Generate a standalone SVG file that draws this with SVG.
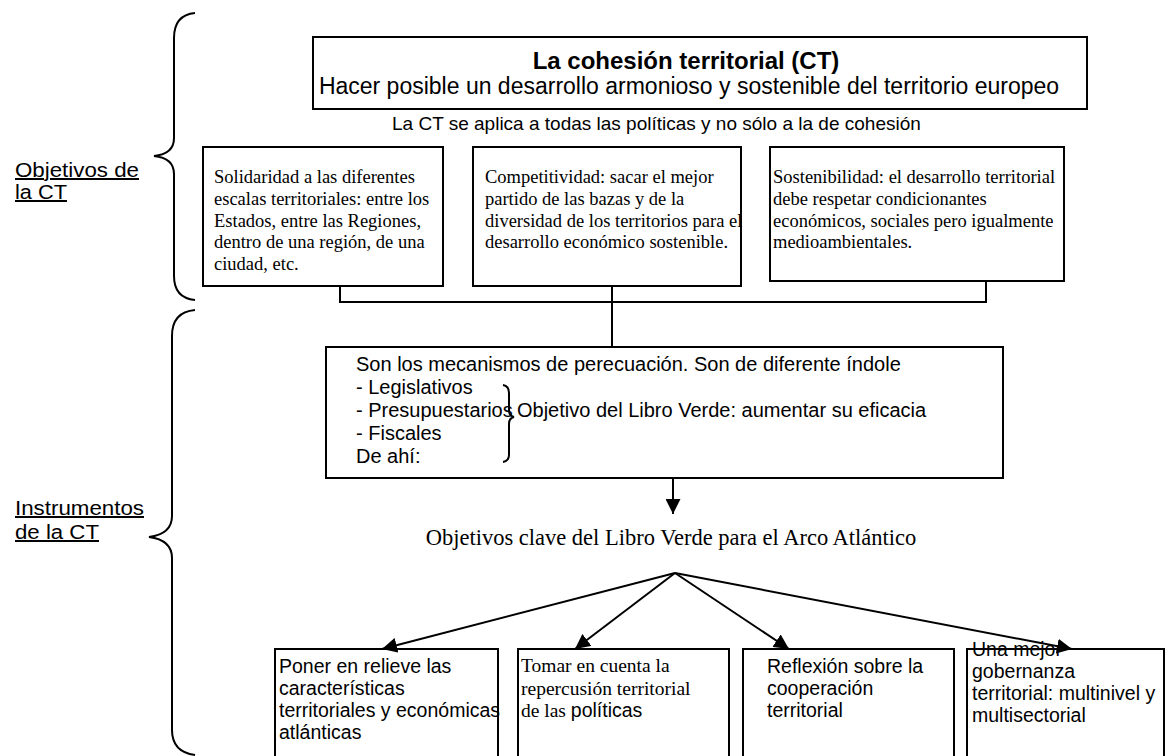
<svg xmlns="http://www.w3.org/2000/svg" width="1165" height="756" viewBox="0 0 1165 756">
<defs>
<marker id="ah" viewBox="0 0 10 10" refX="10" refY="5" markerWidth="15" markerHeight="15" markerUnits="userSpaceOnUse" orient="auto">
<path d="M0,0 L10,5 L0,10 z" fill="#000"/>
</marker>
</defs>
<style>
.box{fill:#fff;stroke:#000;stroke-width:2}
.ln{fill:none;stroke:#000;stroke-width:2}
.br{fill:none;stroke:#000;stroke-width:2}
.sans{font-family:"Liberation Sans",Arial,sans-serif;fill:#000}
.serif{font-family:"Liberation Serif","Times New Roman",serif;fill:#000}
.lbl{font-size:20px;text-decoration:underline}
.tb{font-size:18.5px}
.sb{font-size:19.5px}
</style>
<rect width="1165" height="756" fill="#fff"/>

<g id="brace-objetivos">
<path class="br" d="M195,13 Q174,15 174,38 L174,138 Q174,154 154,156 Q174,158 174,174 L174,276 Q174,298 195,300"/>
<text class="sans lbl" x="15" y="177" textLength="124" lengthAdjust="spacingAndGlyphs">Objetivos de</text>
<text class="sans lbl" x="15" y="199" textLength="52" lengthAdjust="spacingAndGlyphs">la CT</text>
</g>

<g id="brace-instrumentos">
<path class="br" d="M195,310 Q172,312 172,336 L172,516 Q172,534 149,537 Q172,540 172,558 L172,730 Q172,752 195,755"/>
<text class="sans lbl" x="15" y="515" textLength="129" lengthAdjust="spacingAndGlyphs">Instrumentos</text>
<text class="sans lbl" x="15" y="539" textLength="84" lengthAdjust="spacingAndGlyphs">de la CT</text>
</g>

<g id="n-ct">
<rect class="box" x="313" y="37" width="774" height="72"/>
<text class="sans" font-size="24" font-weight="bold" x="686" y="69" text-anchor="middle">La cohesión territorial (CT)</text>
<text class="sans" font-size="23" x="689" y="94" text-anchor="middle">Hacer posible un desarrollo armonioso y sostenible del territorio europeo</text>
</g>

<g id="n-aplica">
<text class="sans" font-size="19" x="392" y="130">La CT se aplica a todas las políticas y no sólo a la de cohesión</text>
</g>

<g id="n-solidaridad">
<rect class="box" x="203" y="147" width="240" height="139"/>
<text class="serif tb"><tspan x="214" y="183">Solidaridad a las diferentes</tspan><tspan x="214" y="205">escalas territoriales: entre los</tspan><tspan x="214" y="227">Estados, entre las Regiones,</tspan><tspan x="214" y="248">dentro de una región, de una</tspan><tspan x="214" y="270">ciudad, etc.</tspan></text>
</g>

<g id="n-competitividad">
<rect class="box" x="473" y="147" width="268" height="139"/>
<text class="serif tb"><tspan x="485" y="183">Competitividad: sacar el mejor</tspan><tspan x="485" y="205">partido de las bazas y de la</tspan><tspan x="485" y="227">diversidad de los territorios para el</tspan><tspan x="485" y="248">desarrollo económico sostenible.</tspan></text>
</g>

<g id="n-sostenibilidad">
<rect class="box" x="770" y="147" width="294" height="134"/>
<text class="serif tb"><tspan x="773" y="183">Sostenibilidad: el desarrollo territorial</tspan><tspan x="773" y="205">debe respetar condicionantes</tspan><tspan x="773" y="227">económicos, sociales pero igualmente</tspan><tspan x="773" y="248">medioambientales.</tspan></text>
</g>

<g id="n-mecanismos">
<rect class="box" x="326" y="347" width="677" height="131"/>
<text class="sans" font-size="20"><tspan x="356" y="371">Son los mecanismos de perecuación. Son de diferente índole</tspan><tspan x="356" y="394">- Legislativos</tspan><tspan x="356" y="417">- Presupuestarios</tspan><tspan x="356" y="440">- Fiscales</tspan><tspan x="356" y="463">De ahí:</tspan></text>
<path class="br" stroke-width="1.5" d="M503,385 Q509,386 509,393 L509,410 Q509,416 514,417 Q509,418 509,424 L509,455 Q509,461 503,462"/>
<text class="sans" font-size="20" x="517" y="417">Objetivo del Libro Verde: aumentar su eficacia</text>
</g>

<g id="n-clave">
<text class="serif" font-size="22.5" x="671" y="545" text-anchor="middle">Objetivos clave del Libro Verde para el Arco Atlántico</text>
</g>

<g id="n-relieve">
<rect class="box" x="275" y="649" width="223" height="120"/>
<text class="sans sb"><tspan x="279" y="673">Poner en relieve las</tspan><tspan x="279" y="695">características</tspan><tspan x="279" y="717">territoriales y económicas</tspan><tspan x="279" y="739">atlánticas</tspan></text>
</g>

<g id="n-tomar">
<rect class="box" x="518" y="649" width="211" height="120"/>
<text font-size="19.5"><tspan class="serif" x="521" y="672">Tomar en cuenta la</tspan><tspan class="serif" x="521" y="695">repercusión territorial</tspan><tspan class="serif" x="521" y="717">de las </tspan><tspan class="sans">políticas</tspan></text>
</g>

<g id="n-reflexion">
<rect class="box" x="743" y="649" width="211" height="120"/>
<text class="sans sb"><tspan x="767" y="673">Reflexión sobre la</tspan><tspan x="767" y="695">cooperación</tspan><tspan x="767" y="717">territorial</tspan></text>
</g>

<g id="n-gobernanza">
<rect class="box" x="967" y="649" width="197" height="120"/>
<text class="sans sb"><tspan x="972" y="656">Una mejor</tspan><tspan x="972" y="678">gobernanza</tspan><tspan x="972" y="700">territorial: multinivel y</tspan><tspan x="972" y="722">multisectorial</tspan></text>
</g>

<g id="connectors">
<path class="ln" d="M340,286 L340,302 L986,302 L986,281"/>
<path class="ln" d="M612,286 L612,347"/>
<path class="ln" d="M673,478 L673,514" marker-end="url(#ah)"/>
<path class="ln" d="M675,573 L382,649" marker-end="url(#ah)"/>
<path class="ln" d="M675,573 L575,649" marker-end="url(#ah)"/>
<path class="ln" d="M675,573 L789,649" marker-end="url(#ah)"/>
<path class="ln" d="M675,573 L1072,649" marker-end="url(#ah)"/>
</g>
</svg>
